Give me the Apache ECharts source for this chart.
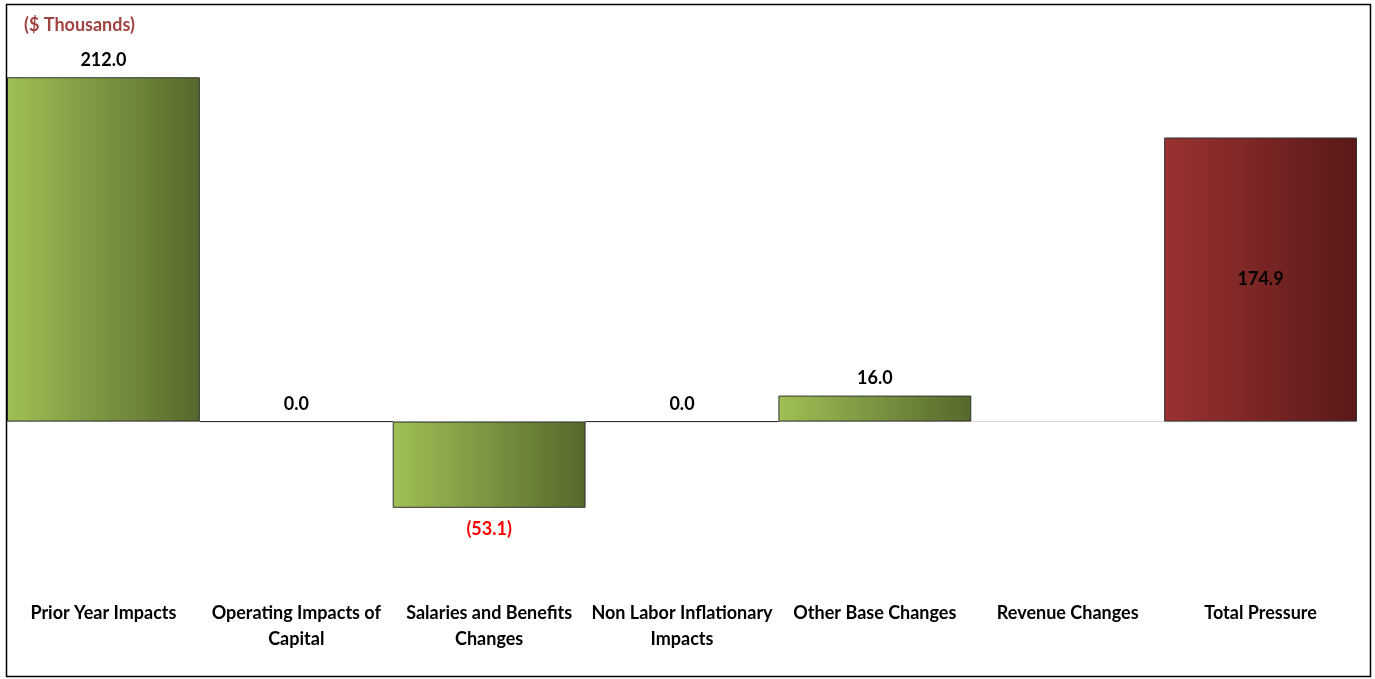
<!DOCTYPE html>
<html><head><meta charset="utf-8">
<script src="https://cdn.jsdelivr.net/npm/echarts@6/dist/echarts.min.js"></script>
<style>html,body{margin:0;padding:0;background:#fff}#c{width:1375px;height:679px}</style>
</head><body><div id="c"></div>
<script>
const categories = ['Prior Year Impacts','Operating Impacts of\nCapital','Salaries and Benefits\nChanges','Non Labor Inflationary\nImpacts','Other Base Changes','Revenue Changes','Total Pressure'];
const values = [212.0, 0.0, -53.1, 0.0, 16.0, null, 174.9];
const unitLabel = '($ Thousands)';

const green = {type:'linear',x:0,y:0,x2:1,y2:0,colorStops:[{offset:0,color:'#9fc055'},{offset:1,color:'#55682c'}]};
const red = {type:'linear',x:0,y:0,x2:1,y2:0,colorStops:[{offset:0,color:'#9a3232'},{offset:1,color:'#5a1818'}]};
const fmt = v => v < 0 ? '(' + Math.abs(v).toFixed(1) + ')' : v.toFixed(1);
const FONT = 'Lato';

const data = values.map((v, i) => {
  if (v === null) return {value: '-'};
  const isTotal = i === values.length - 1;
  const item = {value: v, itemStyle: {color: isTotal ? red : green}};
  if (isTotal) item.label = {position: 'inside', color: '#000'};
  else if (v < 0) item.label = {position: 'bottom', color: '#ff0000', distance: 12};
  return item;
});

const chart = echarts.init(document.getElementById('c'), null, {renderer: 'canvas'});
chart.setOption({
  animation: false,
  backgroundColor: '#fff',
  graphic: [
    {type: 'rect', shape: {x: 6.5, y: 4.5, width: 1364, height: 672}, style: {fill: 'none', stroke: '#000', lineWidth: 1.5}, z: 100},
    {type: 'text', left: 24, top: 16, style: {text: unitLabel, fill: '#a04442', font: 'bold 18px ' + FONT}}
  ],
  grid: {left: 7, right: 18, top: 48, bottom: 95},
  xAxis: {
    type: 'category', data: categories,
    axisLine: {show: false}, axisTick: {show: false},
    axisLabel: {interval: 0, margin: 16, color: '#000', fontFamily: FONT, fontWeight: 'bold', fontSize: 18, lineHeight: 26}
  },
  yAxis: {type: 'value', min: -100, max: 230, show: false, splitLine: {show: false}},
  series: [{
    type: 'bar', data: data, barCategoryGap: '0%', barWidth: '100%',
    itemStyle: {borderColor: '#333', borderWidth: 1},
    label: {show: true, position: 'top', distance: 8, formatter: p => fmt(p.value), color: '#000', fontFamily: FONT, fontWeight: 'bold', fontSize: 18},
    markLine: {silent: true, symbol: 'none', label: {show: false}, lineStyle: {color: '#d9d9d9', width: 1, type: 'solid'}, data: [{yAxis: 0}], z: 1},
    z: 2
  }]
});
</script></body></html>
